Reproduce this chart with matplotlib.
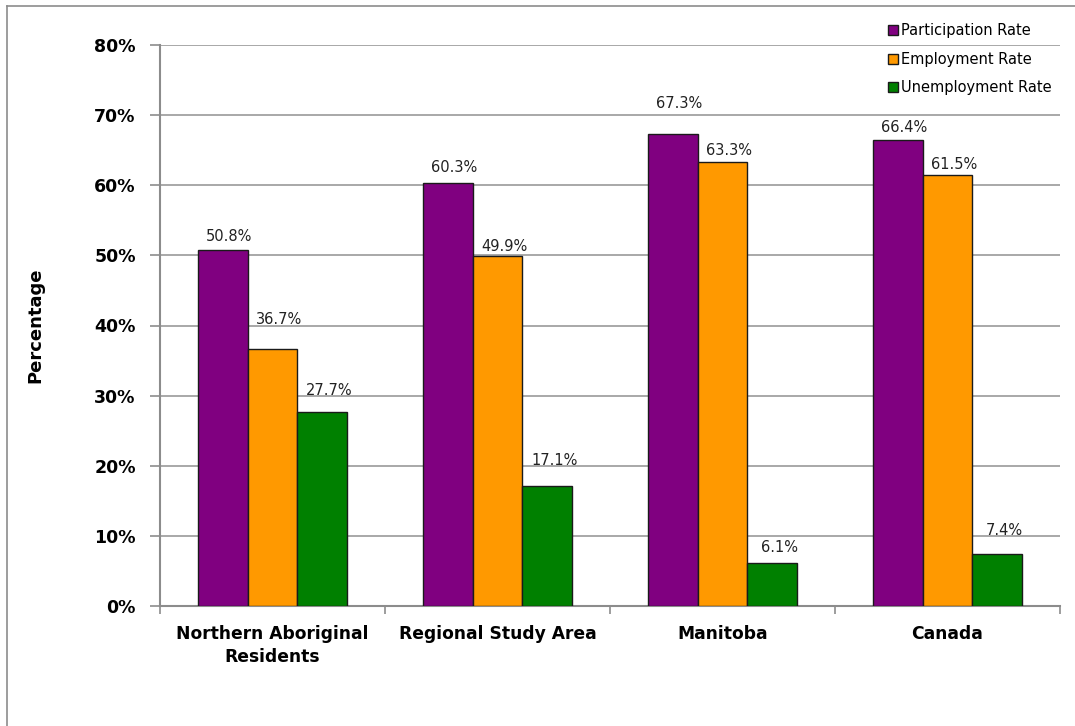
import matplotlib
matplotlib.use("Agg")
import matplotlib.pyplot as plt
import numpy as np
from matplotlib.lines import Line2D

regions = ["Northern Aboriginal\nResidents", "Regional Study Area", "Manitoba", "Canada"]
series = ["Participation Rate", "Employment Rate", "Unemployment Rate"]
participation = [50.8, 60.3, 67.3, 66.4]
employment = [36.7, 49.9, 63.3, 61.5]
unemployment = [27.7, 17.1, 6.1, 7.4]
colors = ["#800080", "#FF9900", "#008000"]

# how far each value label sits above its bar (in axis percent), per series
label_lift = [
    [1.85, 2.3, 4.3, 1.85],
    [4.1, 1.3, 1.7, 1.4],
    [3.0, 3.7, 2.3, 3.4],
]

plt.rcParams["font.family"] = ["DejaVu Sans"]

fig = plt.figure(figsize=(10.75, 7.26), dpi=100)
ax = fig.add_axes([160 / 1075, 1 - 606 / 726, 900 / 1075, 561 / 726])

x = np.arange(len(regions))
w = 0.222
for k, (vals, name, col) in enumerate(zip([participation, employment, unemployment], series, colors)):
    bars = ax.bar(x + (k - 1) * w, vals, width=w, color=col, edgecolor="#1a1a1a",
                  linewidth=1.0, label=name, zorder=3)
    for b, v, lift in zip(bars, vals, label_lift[k]):
        ax.annotate(f"{v:.1f}%", (b.get_x() + b.get_width() / 2, v + lift),
                    xytext=(5, 0), textcoords="offset points", ha="center", va="center",
                    fontsize=10.5, color="#222222", zorder=4)

ax.set_xlim(-0.5, len(regions) - 0.5)
ax.set_ylim(0, 80)
ax.set_yticks(np.arange(0, 81, 10))
ax.set_yticklabels([f"{t}%" for t in range(0, 81, 10)], fontsize=12.5, fontweight="bold")
ax.yaxis.grid(True, color="#9a9a9a", linewidth=1.2, zorder=0)
ax.set_axisbelow(True)

# category labels centred, boundary ticks between groups
ax.set_xticks(x)
ax.set_xticklabels(regions, fontsize=12.3, fontweight="bold", linespacing=1.3)
ax.tick_params(axis="x", length=0, pad=14)
ax.set_xticks(np.arange(-0.5, len(regions)), minor=True)
ax.tick_params(axis="x", which="minor", length=6, color="#8c8c8c", width=1.2)
ax.tick_params(axis="y", length=7, color="#8c8c8c", width=1.2, pad=10.5)

for s in ["top", "right"]:
    ax.spines[s].set_visible(False)
for s in ["left", "bottom"]:
    ax.spines[s].set_color("#8c8c8c")
    ax.spines[s].set_linewidth(1.5)

ax.set_ylabel("Percentage", fontsize=13, fontweight="bold", labelpad=36)

ax.legend(loc="upper right", bbox_to_anchor=(1.005, 1.062), frameon=False, fontsize=10.5,
          handlelength=0.7, handleheight=0.7, handletextpad=0.2, labelspacing=0.92)

# outer chart frame
fig.add_artist(Line2D([7 / 1075, 7 / 1075], [0, 1 - 6 / 726], transform=fig.transFigure,
                      color="#8c8c8c", linewidth=1.2))
fig.add_artist(Line2D([7 / 1075, 1], [1 - 6 / 726, 1 - 6 / 726], transform=fig.transFigure,
                      color="#8c8c8c", linewidth=1.2))

fig.savefig("out.png", dpi=100)
